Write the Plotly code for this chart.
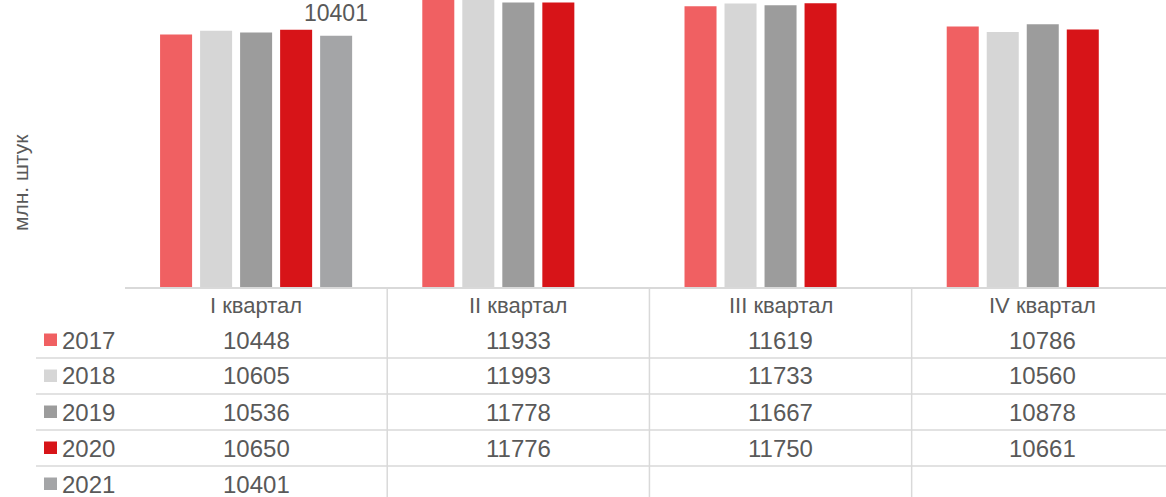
import plotly.graph_objects as go

# ---------------- data ----------------
categories = ["I квартал", "II квартал", "III квартал", "IV квартал"]
years = ["2017", "2018", "2019", "2020", "2021"]
v2017 = [10448, 11933, 11619, 10786]
v2018 = [10605, 11993, 11733, 10560]
v2019 = [10536, 11778, 11667, 10878]
v2020 = [10650, 11776, 11750, 10661]
v2021 = [10401, None, None, None]
series = [v2017, v2018, v2019, v2020, v2021]
colors = ["#F06062", "#D6D6D6", "#9C9C9C", "#D71418", "#A4A5A7"]
y_title = "млн. штук"

# ---------------- layout constants ----------------
W_FIG, H_FIG = 1166, 497
L, R, T, B = 125, 0, 0, 210
PW = W_FIG - L - R
PH = H_FIG - T - B
X_RANGE = [-0.5, 3.47]
Y_RANGE = [0, 11880]
BARGAP = 0.237
BARGROUPGAP = 0.2
FONT = "Liberation Sans, Arial, sans-serif"
TXT = "#595959"
GRID = "#D9D9D9"
FS = 24
FS_HEAD = 22


def py2paper(py):
    return (T + PH - py) / PH


def px2paper(px):
    return (px - L) / PW


fig = go.Figure()
for name, vals, col in zip(years, series, colors):
    fig.add_trace(go.Bar(
        x=categories, y=vals, name=name,
        marker=dict(color=col, line=dict(width=0)),
        showlegend=False, hoverinfo="skip",
    ))

annotations = []
shapes = []

# data label for 2021 Q1
col_px = PW / (X_RANGE[1] - X_RANGE[0])
slot_px = (1 - BARGAP) * col_px / len(series)
idx21 = len(series) - 1
annotations.append(dict(
    x=categories[0], y=v2021[0], xref="x", yref="y",
    text=str(v2021[0]), showarrow=False, yanchor="bottom",
    xshift=(idx21 - (len(series) - 1) / 2) * slot_px, yshift=8,
    font=dict(size=FS - 1, color=TXT, family=FONT),
))

# y axis title
annotations.append(dict(
    x=px2paper(20), y=py2paper(182), xref="paper", yref="paper",
    xanchor="center", yanchor="middle",
    text=y_title, textangle=-90, showarrow=False,
    font=dict(size=21, color=TXT, family=FONT),
))

# ---------- data table ----------
HEADER_Y = 305
ROW_Y0 = 340
ROW_H = 36
# header
for c in categories:
    annotations.append(dict(
        x=c, y=py2paper(HEADER_Y), xref="x", yref="paper",
        text=c, showarrow=False, yanchor="middle",
        font=dict(size=FS_HEAD, color=TXT, family=FONT),
    ))
# rows
for r, (name, vals, col) in enumerate(zip(years, series, colors)):
    yc = ROW_Y0 + r * ROW_H
    # legend key
    shapes.append(dict(
        type="rect", xref="paper", yref="paper",
        x0=px2paper(44), x1=px2paper(57),
        y0=py2paper(yc + 6), y1=py2paper(yc - 6.5),
        fillcolor=col, line=dict(width=0),
    ))
    annotations.append(dict(
        x=px2paper(60), y=py2paper(yc), xref="paper", yref="paper",
        text=name, showarrow=False, xanchor="left", yanchor="middle",
        font=dict(size=FS, color=TXT, family=FONT),
    ))
    for c, v in zip(categories, vals):
        if v is None:
            continue
        annotations.append(dict(
            x=c, y=py2paper(yc), xref="x", yref="paper",
            text=str(v), showarrow=False, yanchor="middle",
            font=dict(size=FS, color=TXT, family=FONT),
        ))
    # horizontal separator line above this row (except first row)
    if r > 0:
        ly = ROW_Y0 + (r - 0.5) * ROW_H
        shapes.append(dict(
            type="line", xref="paper", yref="paper",
            x0=px2paper(36), x1=1.02, y0=py2paper(ly), y1=py2paper(ly),
            line=dict(color=GRID, width=1.5),
        ))

# vertical separators between quarter columns
for i in range(len(categories)):
    shapes.append(dict(
        type="line", xref="x", yref="paper",
        x0=i + 0.5, x1=i + 0.5, y0=0, y1=py2paper(H_FIG + 5),
        line=dict(color=GRID, width=1.5),
    ))

fig.update_layout(
    width=W_FIG, height=H_FIG,
    margin=dict(l=L, r=R, t=T, b=B, pad=0),
    paper_bgcolor="white", plot_bgcolor="white",
    barmode="group", bargap=BARGAP, bargroupgap=BARGROUPGAP,
    font=dict(family=FONT, color=TXT, size=FS),
    hovermode=False,
    xaxis=dict(
        type="category", range=X_RANGE, showticklabels=False,
        showline=True, linecolor=GRID, linewidth=1.5,
        showgrid=False, zeroline=False, ticks="",
    ),
    yaxis=dict(
        range=Y_RANGE, visible=False, showgrid=False, zeroline=False,
    ),
    annotations=annotations,
    shapes=shapes,
)

fig.write_html(
    "out.html",
    config={"displayModeBar": False},
    post_script="document.body.style.margin='0';document.body.style.padding='0';",
)
